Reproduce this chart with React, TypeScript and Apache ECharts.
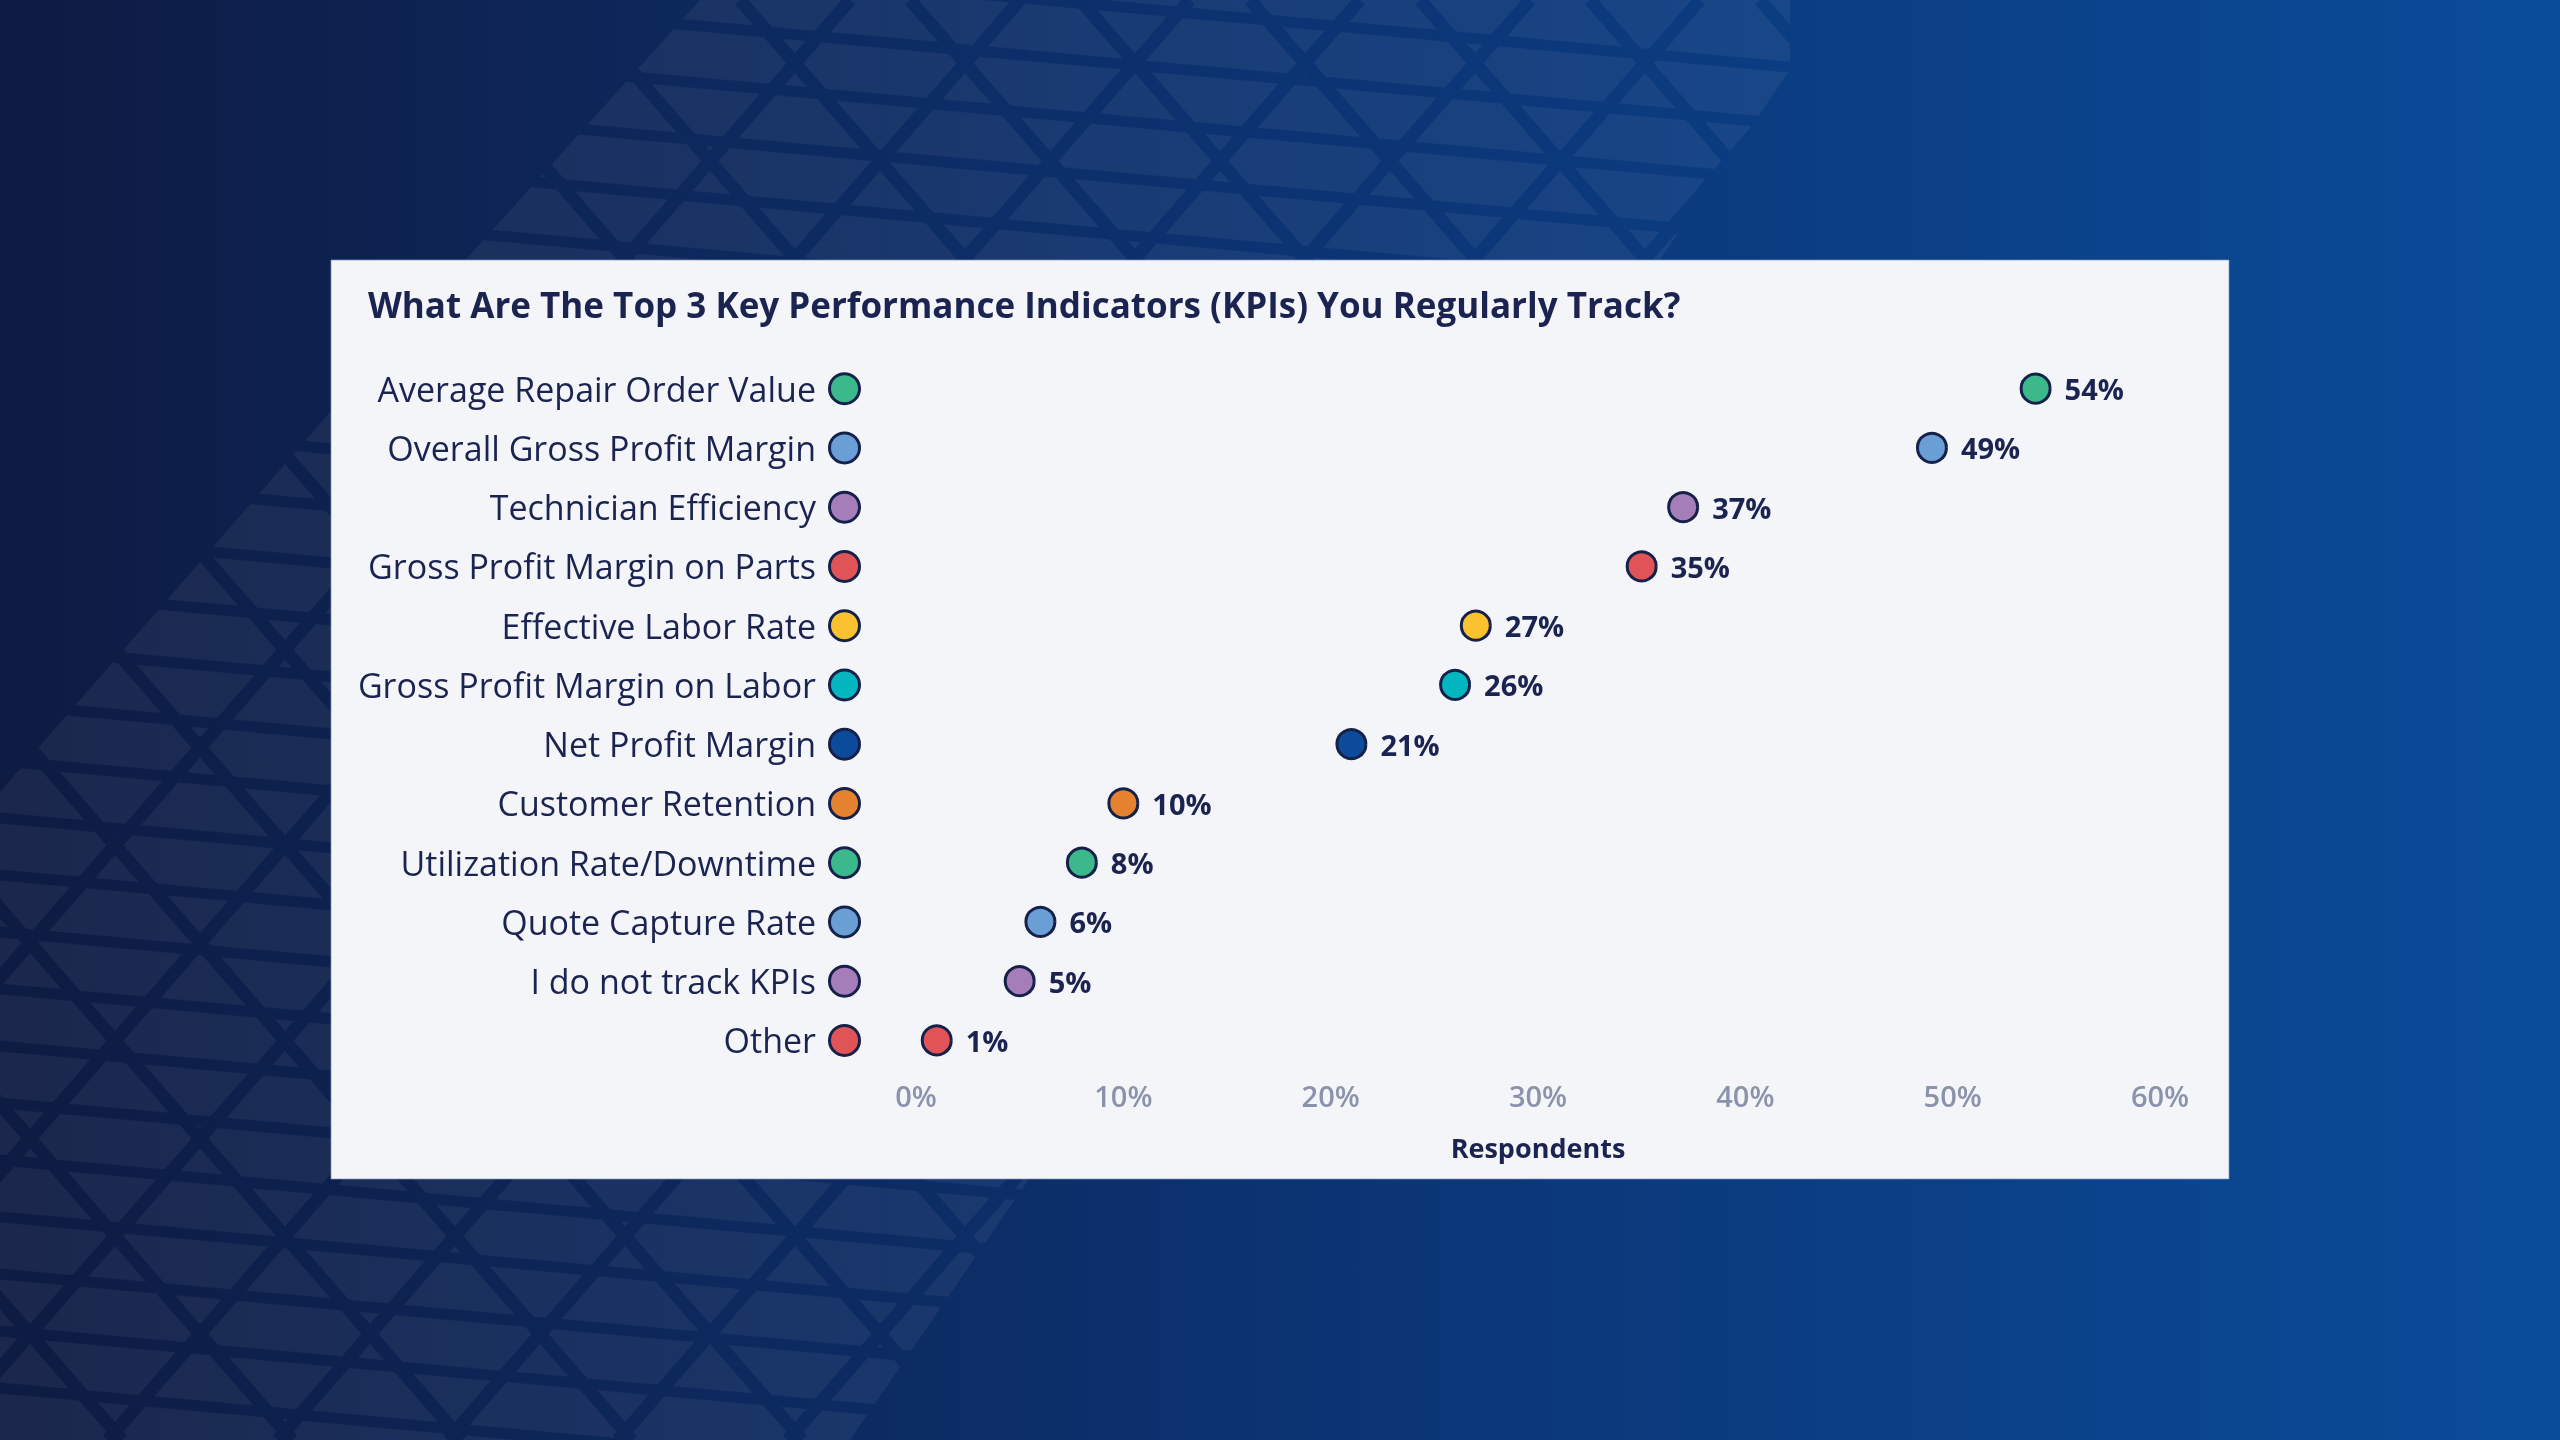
import React, { useEffect, useRef } from "react";
import * as echarts from "echarts";

const categories = [
  "Average Repair Order Value",
  "Overall Gross Profit Margin",
  "Technician Efficiency",
  "Gross Profit Margin on Parts",
  "Effective Labor Rate",
  "Gross Profit Margin on Labor",
  "Net Profit Margin",
  "Customer Retention",
  "Utilization Rate/Downtime",
  "Quote Capture Rate",
  "I do not track KPIs",
  "Other",
];
const values = [54, 49, 37, 35, 27, 26, 21, 10, 8, 6, 5, 1];
const dotColors = [
  "#3bb98a",
  "#6a9fd6",
  "#a57db8",
  "#e05457",
  "#fbc22f",
  "#03b6c0",
  "#0c4a9b",
  "#e5822f",
  "#3bb98a",
  "#6a9fd6",
  "#a57db8",
  "#e05457",
];
const titleText = "What Are The Top 3 Key Performance Indicators (KPIs) You Regularly Track?";
const axisTitle = "Respondents";

const NAVY = "#1b2450";
const OUTLINE = "#16214a";
const FONT = "Open Sans";

const bgStops = [
  { offset: 0, color: "#0e1b42" },
  { offset: 0.5, color: "#0c3372" },
  { offset: 1, color: "#0a4c9a" },
];

function buildPattern() {
  const els: any[] = [];
  els.push({
    type: "polygon",
    silent: true,
    shape: { points: [[700, 0], [1790, 0], [1790, 70], [850, 1440], [-600, 1440]] },
    style: { fill: "rgba(255,255,255,0.055)" },
    z: -9,
  });
  const grad = () => new echarts.graphic.LinearGradient(0, 0, 2560, 0, bgStops, true);
  for (let k = -2; k < 28; k++) {
    const y0 = k * 57 + 20;
    els.push({
      type: "line",
      silent: true,
      shape: { x1: -50, y1: y0 - 4.5, x2: 2000, y2: y0 + 180 },
      style: { stroke: grad(), lineWidth: 11 },
      z: -8,
    });
  }
  for (let k = -12; k < 16; k++) {
    const x0 = k * 170;
    els.push({
      type: "line",
      silent: true,
      shape: { x1: x0, y1: 0, x2: x0 - 1440 / 1.15, y2: 1440 },
      style: { stroke: grad(), lineWidth: 13 },
      z: -8,
    });
    els.push({
      type: "line",
      silent: true,
      shape: { x1: x0 + 60, y1: 0, x2: x0 + 60 + 1440 / 1.15, y2: 1440 },
      style: { stroke: grad(), lineWidth: 13 },
      z: -8,
    });
  }
  return els;
}

export default function App() {
  const ref = useRef<HTMLDivElement>(null);
  useEffect(() => {
    if (!ref.current) return;
    const chart = echarts.init(ref.current, null, { renderer: "svg", width: 2560, height: 1440 });
    const rich: any = {
      t: { fontFamily: FONT, fontSize: 34, color: NAVY, padding: [0, 15, 0, 0] },
    };
    dotColors.forEach((c, i) => {
      rich["d" + i] = {
        width: 27,
        height: 27,
        borderRadius: 14,
        backgroundColor: c,
        borderColor: OUTLINE,
        borderWidth: 3,
      };
    });
    const option: any = {
      animation: false,
      graphic: [
        {
          type: "rect",
          silent: true,
          shape: { x: 0, y: 0, width: 2560, height: 1440 },
          style: { fill: new echarts.graphic.LinearGradient(0, 0, 2560, 0, bgStops, true) },
          z: -10,
        },
        ...buildPattern(),
        {
          type: "rect",
          silent: true,
          shape: { x: 331, y: 260, width: 1898, height: 919 },
          style: { fill: "#f3f5f9", stroke: "rgba(130,150,190,0.7)", lineWidth: 1 },
          z: -5,
        },
      ],
      title: {
        text: titleText,
        left: 363,
        top: 278,
        textStyle: {
          fontFamily: FONT,
          fontSize: 35,
          fontWeight: "bold",
          color: NAVY,
          lineHeight: 42,
        },
      },
      grid: { left: 916, top: 359, width: 1244, height: 711, containLabel: false },
      xAxis: {
        type: "value",
        min: 0,
        max: 60,
        interval: 10,
        axisLine: { show: false },
        axisTick: { show: false },
        splitLine: { show: false },
        axisLabel: {
          formatter: "{value}%",
          margin: 11,
          fontFamily: FONT,
          fontSize: 29,
          fontWeight: 600,
          color: "#8a93ab",
        },
        name: axisTitle,
        nameLocation: "middle",
        nameGap: 64,
        nameTextStyle: { fontFamily: FONT, fontSize: 27, fontWeight: "bold", color: NAVY },
      },
      yAxis: {
        type: "category",
        inverse: true,
        data: categories,
        axisLine: { show: false },
        axisTick: { show: false },
        splitLine: { show: false },
        axisLabel: {
          margin: 58,
          formatter: (v: string, i: number) => `{t|${v}}{d${i}|}`,
          rich,
        },
      },
      series: [
        {
          type: "scatter",
          symbol: "circle",
          symbolSize: 29,
          data: values.map((v, i) => ({
            value: [v, categories[i]],
            itemStyle: { color: dotColors[i], borderColor: OUTLINE, borderWidth: 3, opacity: 1 },
          })),
          itemStyle: { opacity: 1 },
          label: {
            show: true,
            position: "right",
            distance: 13,
            formatter: (p: any) => `${p.value[0]}%`,
            fontFamily: FONT,
            fontSize: 29,
            fontWeight: "bold",
            color: NAVY,
          },
        },
      ],
    };
    chart.setOption(option);
    return () => chart.dispose();
  }, []);
  return <div ref={ref} style={{ position: "fixed", left: 0, top: 0, width: 2560, height: 1440 }} />;
}
